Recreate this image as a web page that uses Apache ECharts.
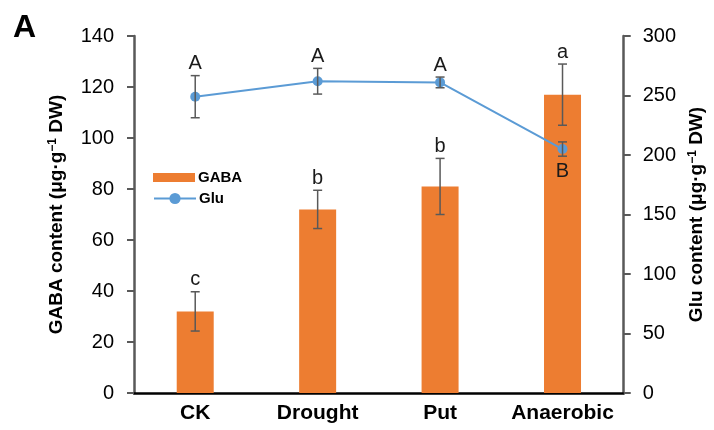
<!DOCTYPE html>
<html>
<head>
<meta charset="utf-8">
<script src="https://cdn.jsdelivr.net/npm/echarts@6/dist/echarts.min.js"></script>
<style>
html,body{margin:0;padding:0;background:#fff;}
#chart{width:714px;height:430px;}
</style>
</head>
<body>
<div id="chart"></div>
<script>
// ---- data ----
const categories = ['CK', 'Drought', 'Put', 'Anaerobic'];
const gabaValues = [32, 72, 81, 117];
const gabaErrors = [7.7, 7.5, 11, 12];
const gabaLetters = ['c', 'b', 'b', 'a'];
const gluValues = [249, 262, 261, 205];
const gluErrors = [17.7, 10.8, 4.5, 6];
const gluLetters = ['A', 'A', 'A', 'B'];
const gluLetterBelow = [false, false, false, true];
const leftTicks = { min: 0, max: 140, interval: 20 };
const rightTicks = { min: 0, max: 300, interval: 50 };

const FONT = "'Liberation Sans', Arial, Helvetica, sans-serif";
const ERR_COLOR = '#595959';

function makeErrRender(letters, below) {
  return function (params, api) {
    const i = api.value(0);
    const v = api.value(1);
    const e = api.value(2);
    const top = api.coord([i, v + e]);
    const bot = api.coord([i, v - e]);
    const cap = 4.5;
    const children = [
      { type: 'line', shape: { x1: top[0], y1: top[1], x2: bot[0], y2: bot[1] }, style: { stroke: ERR_COLOR, lineWidth: 1.5 } },
      { type: 'line', shape: { x1: top[0] - cap, y1: top[1], x2: top[0] + cap, y2: top[1] }, style: { stroke: ERR_COLOR, lineWidth: 1.5 } },
      { type: 'line', shape: { x1: bot[0] - cap, y1: bot[1], x2: bot[0] + cap, y2: bot[1] }, style: { stroke: ERR_COLOR, lineWidth: 1.5 } }
    ];
    const isBelow = below && below[params.dataIndex];
    children.push({
      type: 'text',
      style: {
        text: letters[params.dataIndex],
        x: top[0],
        y: isBelow ? bot[1] + 15 : top[1] - 12,
        textAlign: 'center',
        textVerticalAlign: 'middle',
        fill: '#1a1a1a',
        fontSize: 20,
        fontFamily: FONT
      }
    });
    return { type: 'group', children: children };
  };
}

const gabaErrData = categories.map((c, i) => [i, gabaValues[i], gabaErrors[i]]);
const gluErrData = categories.map((c, i) => [i, gluValues[i], gluErrors[i]]);

const chart = echarts.init(document.getElementById('chart'), null, { renderer: 'canvas' });
chart.setOption({
  animation: false,
  backgroundColor: '#ffffff',
  textStyle: { fontFamily: FONT },
  title: {
    text: 'A', left: 13, top: 12, padding: 0,
    textStyle: { fontFamily: FONT, fontWeight: 'bold', fontSize: 32, color: '#000' }
  },
  legend: [
    {
      data: [{ name: 'GABA', icon: 'rect' }],
      left: 153, top: 170, padding: 0, itemWidth: 42, itemHeight: 9, itemGap: 0,
      textStyle: { fontFamily: FONT, fontWeight: 'bold', fontSize: 15, color: '#000', padding: [0, 0, 0, -2] }
    },
    {
      data: ['Glu'],
      left: 153, top: 191, padding: 0, itemWidth: 42, itemHeight: 14, itemGap: 0,
      textStyle: { fontFamily: FONT, fontWeight: 'bold', fontSize: 15, color: '#000', padding: [0, 0, 0, -2] }
    }
  ],
  grid: { left: 134, right: 86, top: 36, bottom: 37 },
  xAxis: {
    type: 'category',
    data: categories,
    axisLine: { lineStyle: { color: '#000', width: 2.5 } },
    axisTick: { show: false },
    axisLabel: { interval: 0, fontFamily: FONT, fontWeight: 'bold', fontSize: 21, color: '#000', margin: 10 }
  },
  yAxis: [
    {
      type: 'value', position: 'left',
      min: leftTicks.min, max: leftTicks.max, interval: leftTicks.interval,
      name: 'GABA content (μg·g{s|−1} DW)',
      nameLocation: 'middle', nameGap: 68,
      nameTextStyle: {
        fontFamily: FONT, fontWeight: 'bold', fontSize: 19, color: '#000',
        rich: { s: { fontFamily: FONT, fontWeight: 'bold', fontSize: 12, color: '#000', verticalAlign: 'top' } }
      },
      axisLine: { show: true, lineStyle: { color: '#595959', width: 2.5 } },
      axisTick: { show: true, inside: false, length: 7, lineStyle: { color: '#595959', width: 2 } },
      axisLabel: { fontFamily: FONT, fontSize: 20, color: '#000', margin: 20 },
      splitLine: { show: false }
    },
    {
      type: 'value', position: 'right',
      min: rightTicks.min, max: rightTicks.max, interval: rightTicks.interval,
      name: 'Glu content (μg·g{s|−1} DW)',
      nameLocation: 'middle', nameGap: 53,
      nameTextStyle: {
        fontFamily: FONT, fontWeight: 'bold', fontSize: 19, color: '#000',
        rich: { s: { fontFamily: FONT, fontWeight: 'bold', fontSize: 12, color: '#000', verticalAlign: 'top' } }
      },
      axisLine: { show: true, lineStyle: { color: '#595959', width: 2.5 } },
      axisTick: { show: true, inside: false, length: 7, lineStyle: { color: '#595959', width: 2 } },
      axisLabel: { fontFamily: FONT, fontSize: 20, color: '#000', margin: 19 },
      splitLine: { show: false }
    }
  ],
  series: [
    {
      name: 'GABA', type: 'bar', yAxisIndex: 0, data: gabaValues,
      barWidth: 37, itemStyle: { color: '#ED7D31' }, z: 2
    },
    {
      type: 'custom', yAxisIndex: 0, data: gabaErrData,
      renderItem: makeErrRender(gabaLetters, null), z: 3, silent: true
    },
    {
      name: 'Glu', type: 'line', yAxisIndex: 1, data: gluValues,
      symbol: 'circle', symbolSize: 10,
      itemStyle: { color: '#5B9BD5' }, lineStyle: { color: '#5B9BD5', width: 2 }, z: 4
    },
    {
      type: 'custom', yAxisIndex: 1, data: gluErrData,
      renderItem: makeErrRender(gluLetters, gluLetterBelow), z: 5, silent: true
    }
  ]
});
</script>
</body>
</html>
